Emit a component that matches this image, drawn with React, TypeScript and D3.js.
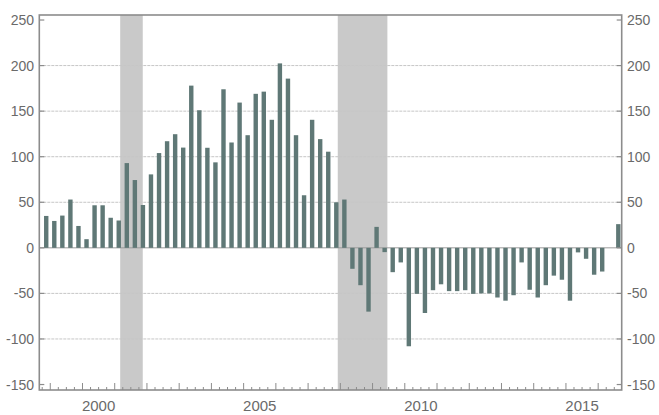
import React from "react";
import * as d3 from "d3";

// Quarterly values, first bar = 1998 Q4
const startYear = 1998.875;
const values: number[] = [
  35, 29.5, 35.4, 53, 24, 9.5, 46.7, 46.7, 33, 30,
  93, 74.4, 47, 80.6, 104, 117, 124.7, 110, 178, 151,
  109.8, 93.8, 174, 115.6, 159.4, 123.6, 169, 171.4, 140.5, 202.4,
  185.7, 123.6, 57.7, 140.5, 119.3, 105.5, 50, 53, -23, -41,
  -70, 23, -4.7, -26.7, -16, -108, -50.5, -71.5, -46.5, -40,
  -47.5, -47.5, -46.5, -50.5, -50, -50, -54.5, -58, -52, -16,
  -46, -54.5, -41, -30.5, -35, -58, -5, -12, -29.5, -26,
  0, 26,
];
const recessions: [number, number][] = [
  [2001.17, 2001.87],
  [2007.92, 2009.46],
];
const yTicks = [250, 200, 150, 100, 50, 0, -50, -100, -150];
const gridValues = [200, 150, 100, 50, -50, -100];
const yearLabels = [2000, 2005, 2010, 2015];

const W = 659;
const H = 415;
const L = 39.3;
const R = 621.7;
const T = 15;
const B = 390;

export default function App() {
  const x = d3.scaleLinear().domain([1998.66, 2016.73]).range([L, R]);
  const y = d3.scaleLinear().domain([-156, 255.5]).range([B, T]);
  const barW = 4.4;
  const quarterTicks = d3.range(Math.ceil(1998.66 * 4), Math.floor(2016.73 * 4) + 1).map((q) => q / 4);
  const frame = "#8c8c8c";
  const textColor = "#6a6a6a";
  const font = "'Liberation Sans', Arial, sans-serif";

  return (
    <svg
      width={W}
      height={H}
      style={{ position: "absolute", left: 0, top: 0, background: "#fff" }}
    >
      {/* recession shading */}
      {recessions.map(([a, b], i) => (
        <rect key={i} x={x(a)} y={T} width={x(b) - x(a)} height={B - T} fill="#c9c9c9" />
      ))}
      {/* grid lines */}
      {gridValues.map((v) => (
        <line
          key={v}
          x1={L}
          x2={R}
          y1={y(v)}
          y2={y(v)}
          stroke="#c6c6c6"
          strokeWidth={1}
          strokeDasharray="3,1"
        />
      ))}
      <line x1={L} x2={R} y1={y(0)} y2={y(0)} stroke="#9a9a9a" strokeWidth={1} />
      {/* bars */}
      {values.map((v, i) => {
        const t = startYear + i * 0.25;
        const y0 = y(0);
        const y1 = y(v);
        return (
          <rect
            key={i}
            x={x(t) - barW / 2}
            y={Math.min(y0, y1)}
            width={barW}
            height={Math.abs(y1 - y0)}
            fill="#5f7876"
          />
        );
      })}
      {/* frame */}
      <rect x={L} y={T} width={R - L} height={B - T} fill="none" stroke={frame} strokeWidth={1.6} />
      {/* y ticks + labels */}
      {yTicks.map((v) => (
        <g key={v}>
          <line x1={L} x2={L + 5} y1={y(v)} y2={y(v)} stroke={frame} strokeWidth={1.2} />
          <line x1={R - 5} x2={R} y1={y(v)} y2={y(v)} stroke={frame} strokeWidth={1.2} />
          <text
            x={34}
            y={y(v)}
            dy="0.36em"
            textAnchor="end"
            fontFamily={font}
            fontSize={14}
            fill={textColor}
          >
            {v}
          </text>
          <text
            x={627}
            y={y(v)}
            dy="0.36em"
            textAnchor="start"
            fontFamily={font}
            fontSize={14}
            fill={textColor}
          >
            {v}
          </text>
        </g>
      ))}
      {/* x ticks */}
      {quarterTicks.map((q) => {
        const major = Math.abs(q - Math.round(q)) < 1e-6;
        return (
          <line
            key={q}
            x1={x(q)}
            x2={x(q)}
            y1={B}
            y2={B - (major ? 7 : 3)}
            stroke={frame}
            strokeWidth={1}
          />
        );
      })}
      {yearLabels.map((yr) => (
        <text
          key={yr}
          x={x(yr + 0.5)}
          y={406}
          dy="0.36em"
          textAnchor="middle"
          fontFamily={font}
          fontSize={15}
          fill={textColor}
        >
          {yr}
        </text>
      ))}
    </svg>
  );
}
